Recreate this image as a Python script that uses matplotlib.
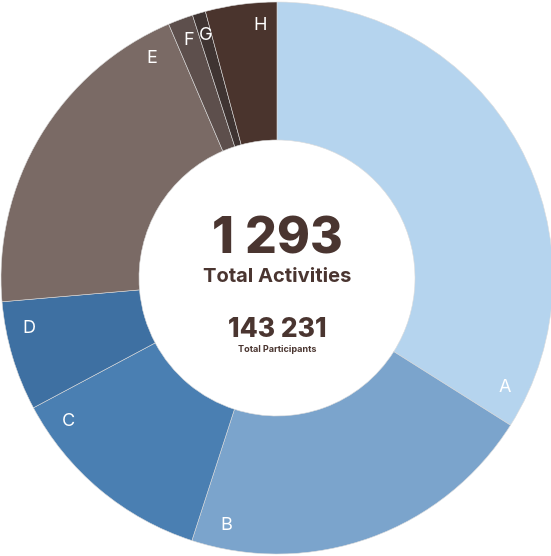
import matplotlib
matplotlib.use("Agg")
import matplotlib.pyplot as plt
import numpy as np

# activity counts per category
labels = ['A', 'B', 'C', 'D', 'E', 'F', 'G', 'H']
activities = [439, 272, 158, 83, 258, 19, 10, 54]
colors = ['#b5d4ee', '#7ba4cc', '#4a7fb2', '#3e70a2',
          '#7a6a65', '#5d4f4c', '#3f3432', '#4a342d']
total_activities = '1 293'
total_participants = '143 231'

brown = '#4a3530'
plt.rcParams['font.family'] = ['Inter', 'DejaVu Sans']

fig = plt.figure(figsize=(5.51, 5.56), dpi=100)
ax = fig.add_axes([0, 0, 1, 1])

R = 276
wedges, _ = ax.pie(activities, colors=colors, startangle=90, counterclock=False,
                   radius=R, center=(0, 0),
                   wedgeprops=dict(width=R / 2, edgecolor='#dcdcdc', linewidth=0.4))

# labels sit near the clockwise end of each slice, close to the outer rim
vals = np.array(activities, dtype=float)
ends = 90 - 360 * np.cumsum(vals) / vals.sum()
spans = 360 * vals / vals.sum()
for lab, end, span in zip(labels, ends, spans):
    if span > 20:
        off = 6.5
    elif span > 10:
        off = span / 4
    else:
        off = span / 2
    ang = np.radians(end + off)
    ax.text(253 * np.cos(ang), 253 * np.sin(ang), lab, color='white',
            fontsize=13, ha='center', va='center')

ax.text(0, 38, total_activities, color=brown, fontsize=36, fontweight='heavy',
        ha='center', va='center')
ax.text(0, 1, 'Total Activities', color=brown, fontsize=14.5, fontweight='bold',
        ha='center', va='center')
ax.text(0, -52, total_participants, color=brown, fontsize=19, fontweight='heavy',
        ha='center', va='center')
ax.text(0, -71, 'Total Participants', color=brown, fontsize=6.5, fontweight='bold',
        ha='center', va='center')

ax.set_xlim(-277, 274)
ax.set_ylim(-278, 278)
ax.set_aspect('auto')
ax.axis('off')

fig.savefig('out.png', dpi=100)
